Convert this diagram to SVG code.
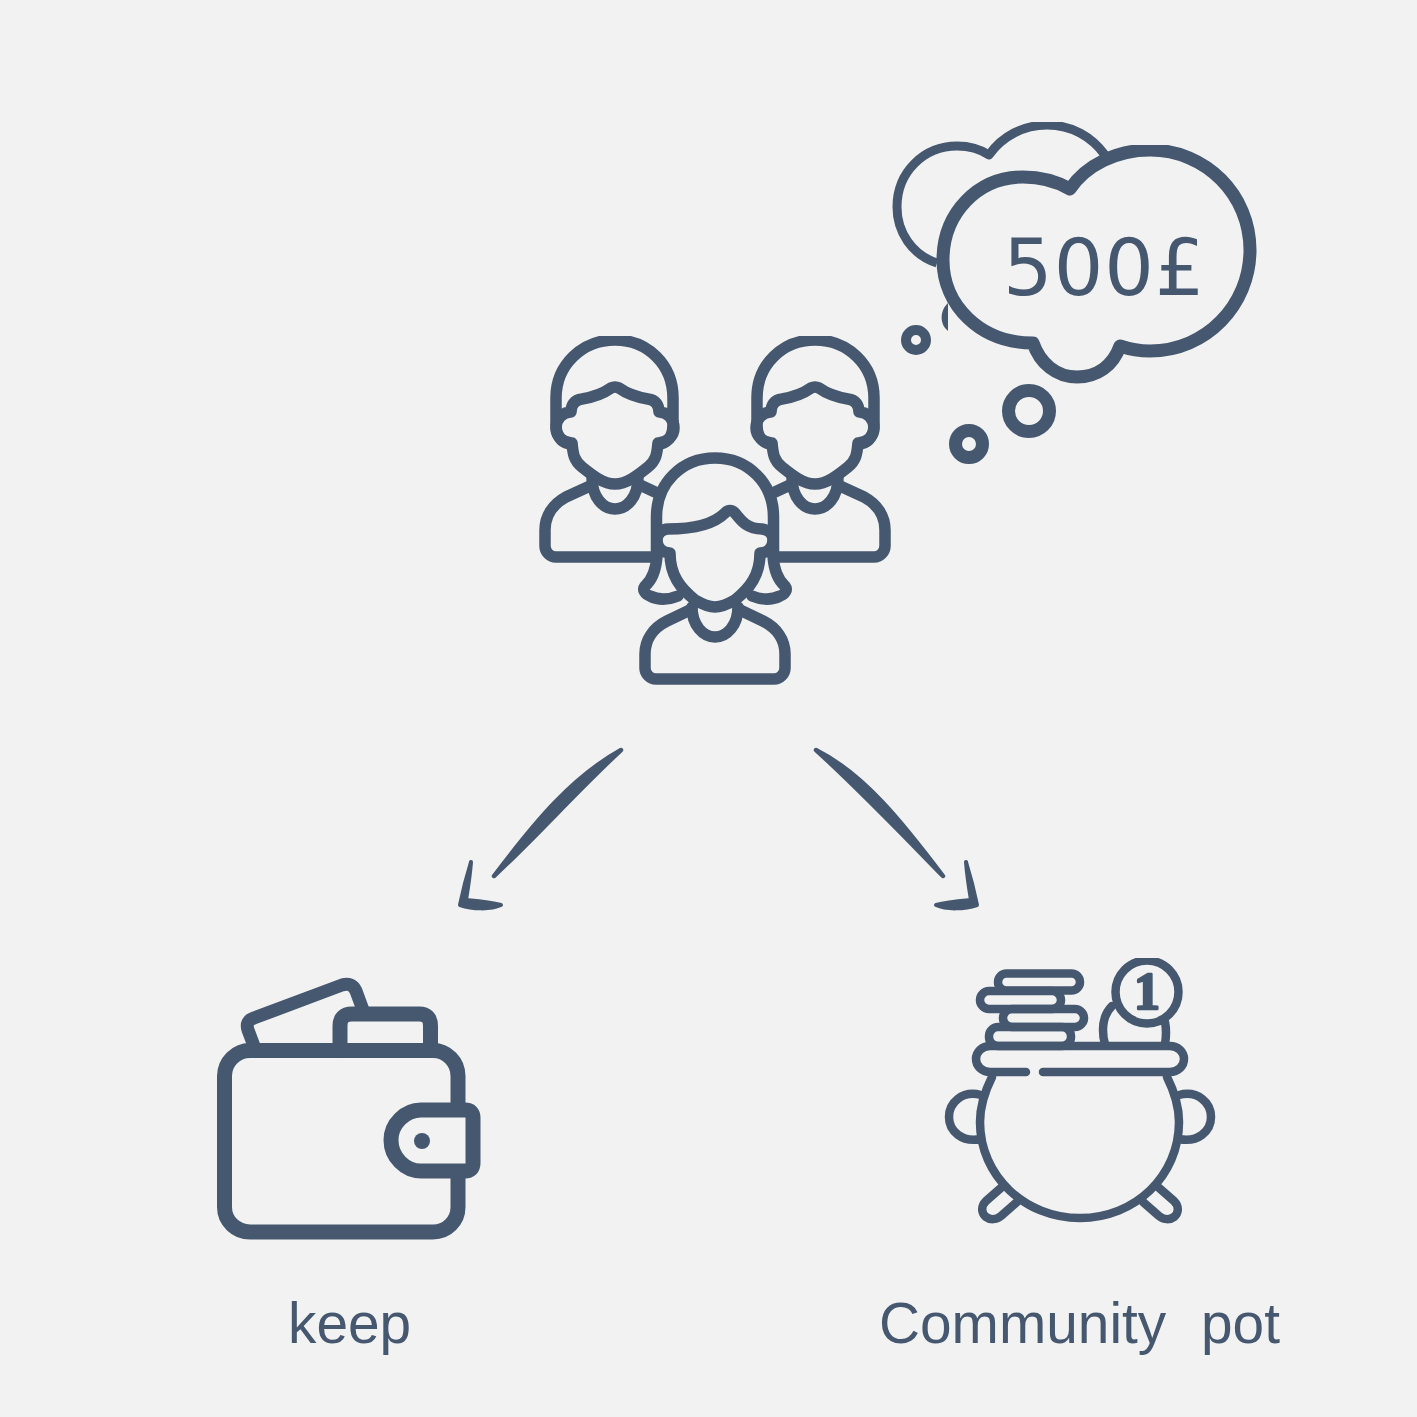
<svg xmlns="http://www.w3.org/2000/svg" width="1417" height="1417" viewBox="0 0 1417 1417">
<style>
.l{fill:none;stroke:#46586f;stroke-linecap:round;stroke-linejoin:round}
.p{stroke-width:11.5}
.k{stroke-width:8.5}
.w{stroke-width:15}
.f{fill:#46586f;stroke:#46586f;stroke-linejoin:round;stroke-linecap:round}
.t{fill:#46586f;font-family:"Liberation Sans",Arial,sans-serif;font-size:56.800px;white-space:pre}
</style>
<defs>
<clipPath id="topHead"><rect x="500" y="336" width="420" height="360"/></clipPath>
<clipPath id="topCloudBack"><rect x="880" y="122" width="260" height="160"/></clipPath>
<clipPath id="topCloud"><rect x="900" y="145" width="370" height="250"/></clipPath>
<clipPath id="topCoin"><rect x="1100" y="958" width="90" height="80"/></clipPath>
<g id="man">
<path class="l p" d="M569 444C560 442 556 434 556 425L556 398C556 365 582 340 615 340C648 340 673 365 673 398L673 425C673 434 669 442 661 444"/>
<path class="l p" d="M571 412C571 405 574 400 582 399C594 397 604 393 611 388Q615 386 619 388C626 393 636 397 648 399C656 400 659 405 659 412C667 412 674 419 674 428C674 436 667 443 658 443C657 452 657 460 648 467C638 475 627 484 615 484C603 484 592 475 582 467C573 460 573 452 572 443C563 443 556 436 556 428C556 419 563 412 571 412Z"/>
<path class="l p" d="M592 478C592 497 603 509 615 509C627 509 638 497 638 478"/>
<path class="l p" d="M590 486L566 497C553 504 545 516 545 530L545 546C545 552 550 557 556 557L652 557M640 485L655 492"/>
</g>
</defs>
<rect width="1417" height="1417" fill="#f2f2f2"/>
<g id="people">
<g clip-path="url(#topHead)">
<use href="#man"/>
<use href="#man" transform="matrix(-1 0 0 1 1430 0)"/>
</g>
<path class="l p" d="M656.500 552L656.500 517C656.500 483 682 458 715 458C748 458 773.500 483 773.500 517L773.500 552"/>
<path class="l p" d="M657 556C656 570 652 580 645 586C642 590 645 594 650 596C658 600 668 600 678 596M773 556C774 570 778 580 785 586C788 590 785 594 780 596C772 600 762 600 752 596"/>
<path class="l p" d="M668 529C690 529 712 526 725 513Q730 508 735 513C742 522 748 529 762 529C769 530 773 535 773 540C773 547 768 553 760 553C760 575 750 588 735 600C728 604 722 607 715 607C708 607 702 604 695 600C680 588 670 575 670 553C662 553 657 547 657 540C657 534 662 529 668 529Z"/>
<path class="l p" d="M692 607C692 625 703 637 715 637C727 637 738 625 738 607"/>
<path class="l p" d="M690 610L667 621C653 628 645 640 645 654L645 668C645 674 650 679 656 679L774 679C780 679 785 674 785 668L785 654C785 640 777 628 763 621L740 610"/>
</g>
<g id="thought">
<path class="l" clip-path="url(#topCloudBack)" stroke-width="9" d="M937 263C912 255 897 232 897 207C897 172 924 146 957 146C969 146 980 149 989 155C1002 136 1024 125 1047 125C1072 125 1092 137 1105 155" style="stroke-linecap:butt"/>
<path d="M948 303C940 310 939 324 948 331Z" fill="#46586f"/>
<path class="l" clip-path="url(#topCloud)" style="fill:#f2f2f2;stroke-width:13" d="M1070 189C1086 165 1117 150 1150 150C1206 150 1250 195 1250 250C1250 305 1206 351 1150 351C1139 351 1129 349 1120 346C1113 366 1097 377 1077 377C1056 377 1040 363 1033 343C980 343 943 305 943 260C943 213 978 177 1023 177C1040 177 1056 181 1070 189Z"/>
<circle class="l" style="stroke-width:10" cx="916" cy="340" r="10"/>
<circle class="l" style="stroke-width:13" cx="1029" cy="411" r="20.500"/>
<circle class="l" style="stroke-width:13" cx="969" cy="444" r="13.500"/>
<text x="1003" y="295" style="fill:#46586f;font-family:'DejaVu Sans',sans-serif;font-size:78px;letter-spacing:1px">500£</text>
</g>
<g id="connectors">
<path class="f" stroke-width="4.500" d="M621 750C572 777 535 822 494 876C537 836 572 796 621 750Z"/>
<path class="f" stroke-width="4" d="M471 862C467 875 463 890 460 905C472 909 490 910 501 905C490 902 477 901 466 900C468 888 470 875 471 862Z"/>
<path class="f" stroke-width="4.500" d="M816 750C864 774 902 822 943 876C903 835 860 790 816 750Z"/>
<path class="f" stroke-width="4" d="M966 862C970 875 974 890 977 905C965 909 947 910 936 905C947 902 960 901 971 900C969 888 967 875 966 862Z"/>
</g>
<g id="wallet">
<path class="l w" d="M458 1102L458 1076C458 1062 447 1050.500 433 1050.500L250 1050.500C236 1050.500 224.500 1062 224.500 1076L224.500 1207C224.500 1221 236 1232 250 1232L433 1232C447 1232 458 1221 458 1207L458 1178"/>
<path class="l w" d="M421 1110L465 1110Q473 1110 473 1118L473 1163Q473 1171 465 1171L421 1171C405 1171 391 1157 391 1140C391 1124 405 1110 421 1110Z"/>
<circle cx="422" cy="1141" r="8" fill="#46586f"/>
<path class="l w" d="M340 1050L340 1026Q340 1014 352 1014L419 1014Q430.500 1014 430.500 1026L430.500 1050"/>
<path class="l" style="stroke-width:13" d="M254 1046L248 1030Q245 1021 254 1018L342 985Q352 982 356 991L363 1010"/>
<text class="t" x="288" y="1343">keep</text>
</g>
<g id="pot">
<path class="l k" d="M992 1077C984 1093 980 1108 980 1122C980 1176 1025 1218 1080 1218C1135 1218 1179 1176 1179 1122C1179 1108 1175 1093 1167 1077"/>
<path class="l k" d="M1026 1072L990 1072C982 1072 976 1066 976 1059C976 1052 982 1046 990 1046L1170 1046C1178 1046 1184 1052 1184 1059C1184 1066 1178 1072 1170 1072L1043 1072"/>
<path class="l k" d="M981 1095C962 1090 949 1103 949 1117C949 1131 962 1143 981 1139M1179 1095C1198 1090 1211 1103 1211 1117C1211 1131 1198 1143 1179 1139"/>
<path class="l k" d="M1002 1187L986 1201C980 1207 982 1214 986 1217C990 1220 996 1220 1001 1216L1017 1202M1158 1187L1174 1201C1180 1207 1178 1214 1174 1217C1170 1220 1164 1220 1159 1216L1143 1202"/>
<rect class="l k" x="998" y="973.500" width="82" height="17" rx="8.500"/>
<rect class="l k" x="980" y="991" width="81" height="18" rx="9"/>
<rect class="l k" x="1003" y="1009" width="81" height="18" rx="9"/>
<rect class="l k" x="989" y="1027" width="82" height="19" rx="9"/>
<circle class="l k" clip-path="url(#topCoin)" cx="1147" cy="992" r="31.500"/>
<path class="l k" d="M1112 1006C1105 1013 1103 1022 1103 1030Q1103 1038 1105 1044M1165 1022Q1167 1032 1165 1044"/>
<text x="1147" y="1009" text-anchor="middle" style="fill:#46586f;stroke:#46586f;stroke-width:2.500px;stroke-linejoin:round;font-family:'Liberation Serif',serif;font-weight:bold;font-size:52px">1</text>
<text class="t" x="879" y="1343">Community  <tspan x="1201">pot</tspan></text>
</g>
</svg>
